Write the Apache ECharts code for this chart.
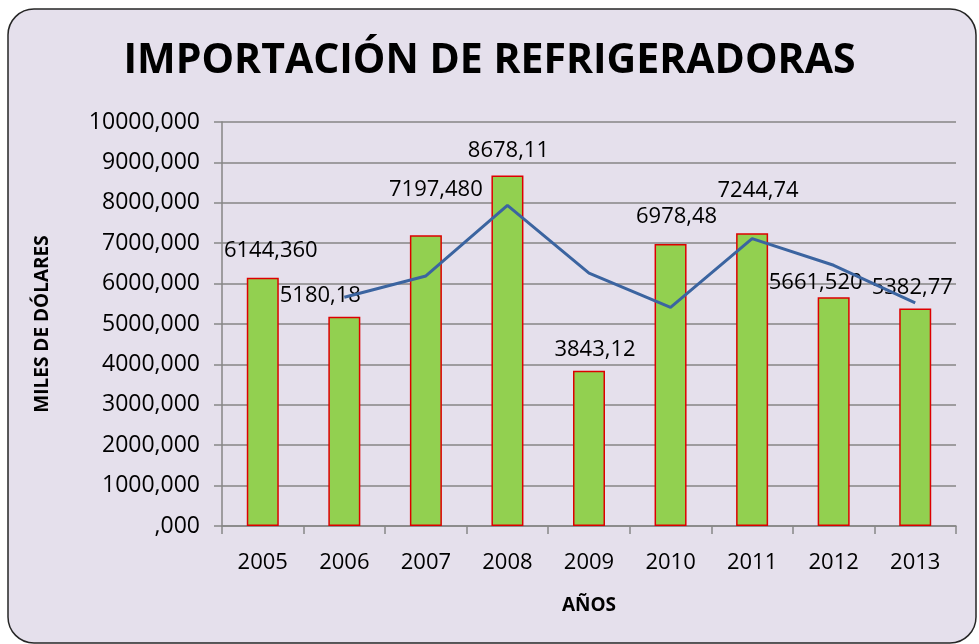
<!DOCTYPE html>
<html>
<meta charset="UTF-8">
<title>importacion-refrigeradoras</title>
<style type="text/css">
    html,
    body {
        margin: 0px;
        height: 100%;
        width: 100%;
        background: #ffffff;
    }

    #chart {
        width: 979px;
        height: 644px;
    }
</style>
<script src="https://cdn.jsdelivr.net/npm/echarts@6/dist/echarts.min.js"></script>

<body>
    <div id="chart"></div>
    <script>
        const years = ['2005', '2006', '2007', '2008', '2009', '2010', '2011', '2012', '2013'];
        const imports = [6144.36, 5180.18, 7197.48, 8678.11, 3843.12, 6978.48, 7244.74, 5661.52, 5382.77];
        const importLabels = ['6144,360', '5180,18', '7197,480', '8678,11', '3843,12', '6978,48', '7244,74', '5661,520', '5382,77'];
        // moving average line (2 periods), first year empty
        const trend = [null, 5662.27, 6188.83, 7937.80, 6260.62, 5410.80, 7111.61, 6453.13, 5522.15];
        const yTicks = [0, 1000, 2000, 3000, 4000, 5000, 6000, 7000, 8000, 9000, 10000];

        // label nudges so they sit like the original chart
        const labelOffsets = [[8, -4], [-24, 2], [10, -22], [1, -2], [6, 2], [6, -4], [6, -20], [-18, 8], [-3, 2]];

        const font = '"Open Sans", sans-serif';

        const chart = echarts.init(document.getElementById('chart'));
        chart.setOption({
            animation: false,
            backgroundColor: '#ffffff',
            graphic: [{
                type: 'rect',
                z: -10,
                shape: { x: 8, y: 9, width: 968, height: 634, r: 26 },
                style: { fill: '#E5E0EC', stroke: '#262626', lineWidth: 1.5 }
            }],
            title: {
                text: 'IMPORTACIÓN DE REFRIGERADORAS',
                left: 'center',
                top: 36,
                textStyle: {
                    fontFamily: font,
                    fontSize: 41,
                    fontWeight: 'bold',
                    color: '#000000'
                }
            },
            grid: {
                left: 222,
                right: 23,
                top: 122,
                bottom: 118
            },
            xAxis: {
                type: 'category',
                data: years,
                name: 'AÑOS',
                nameLocation: 'middle',
                nameGap: 70,
                nameTextStyle: { fontFamily: font, fontSize: 19, fontWeight: 'bold', color: '#000' },
                axisLine: { lineStyle: { color: '#868686', width: 1.5 } },
                axisTick: { show: true, length: 8, lineStyle: { color: '#868686', width: 1.5 } },
                axisLabel: { fontFamily: font, fontSize: 22, color: '#000', margin: 26 }
            },
            yAxis: {
                type: 'value',
                min: 0,
                max: 10000,
                interval: 1000,
                name: 'MILES DE DÓLARES',
                nameLocation: 'middle',
                nameGap: 170,
                nameTextStyle: { fontFamily: font, fontSize: 19, fontWeight: 'bold', color: '#000' },
                axisLine: { show: true, lineStyle: { color: '#868686', width: 1.5 } },
                axisTick: { show: true, length: 8, lineStyle: { color: '#868686', width: 1.5 } },
                splitLine: { lineStyle: { color: '#868686', width: 1.5 } },
                axisLabel: {
                    fontFamily: font,
                    fontSize: 23,
                    color: '#000',
                    margin: 22,
                    formatter: function (v) {
                        return (v === 0 ? '' : String(v)) + ',000';
                    },
                    customValues: yTicks
                }
            },
            series: [
                {
                    type: 'bar',
                    barWidth: 32,
                    data: imports.map(function (v, i) {
                        return {
                            value: v,
                            label: { offset: labelOffsets[i], formatter: importLabels[i] }
                        };
                    }),
                    itemStyle: {
                        color: '#92D050',
                        borderColor: '#DD0000',
                        borderWidth: 1.5
                    },
                    label: {
                        show: true,
                        position: 'top',
                        distance: 12,
                        fontFamily: font,
                        fontSize: 22,
                        color: '#000'
                    },
                    z: 2
                },
                {
                    type: 'line',
                    data: trend,
                    symbol: 'none',
                    lineStyle: { color: '#3B64A0', width: 3 },
                    z: 3
                }
            ]
        });
    </script>
</body>

</html>
